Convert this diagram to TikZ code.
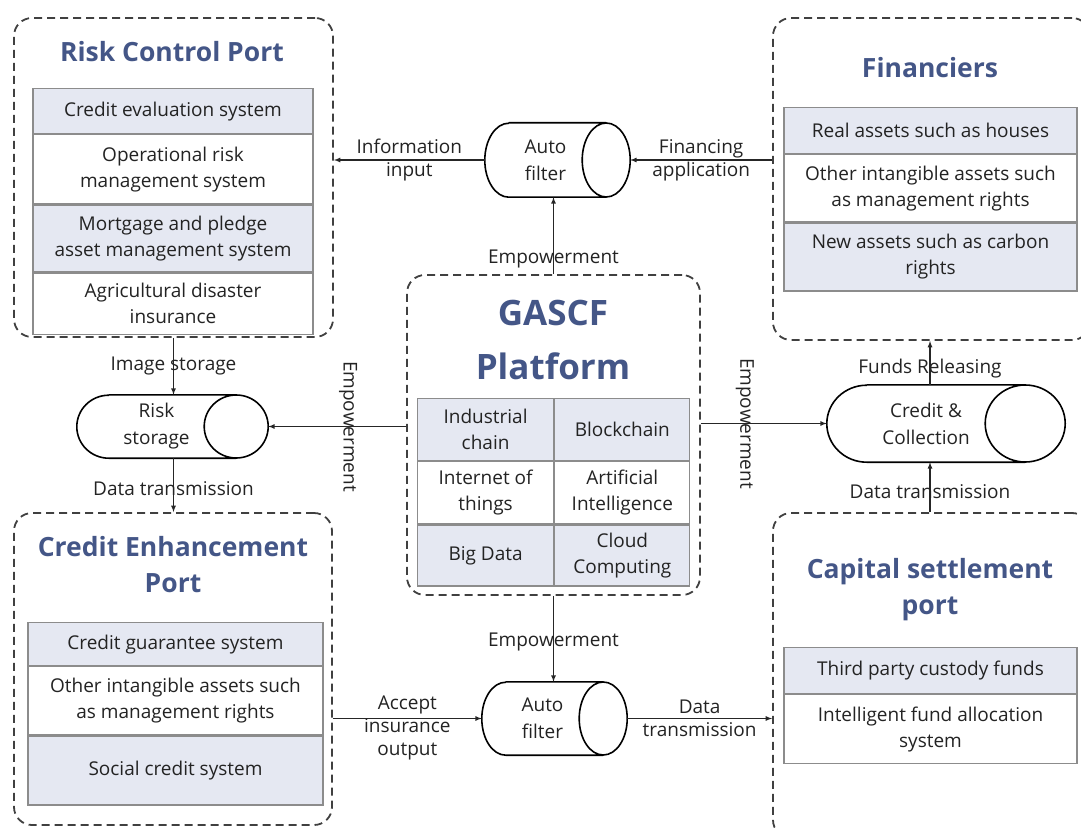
\documentclass[tikz,border=0pt]{standalone}
\usepackage{fontspec}
\setmainfont{Open Sans}
\usetikzlibrary{shapes.geometric,positioning}

\definecolor{titleblue}{RGB}{68,86,135}
\definecolor{rowgray}{RGB}{229,232,242}
\definecolor{inkgray}{RGB}{35,35,35}

\tikzset{
	portbox/.style={draw=black!75, line width=1.8pt, dash pattern=on 8pt off 5pt, rounded corners=18pt, inner sep=0pt},
	porttitle/.style={text=titleblue, font=\fontsize{26.5}{36}\selectfont\bfseries, align=center},
	tabcell/.style={draw=black!45, line width=1.2pt, align=center, inner sep=0pt, text=inkgray, font=\fontsize{19}{26}\selectfont},
	greyrow/.style={tabcell, fill=rowgray},
	whiterow/.style={tabcell, fill=white},
	drum/.style={align=center, inner sep=0pt, text=inkgray, font=\fontsize{19}{27}\selectfont},
	drumline/.style={draw=black, line width=1.6pt},
	flow/.style={-latex, line width=1.2pt, draw=black!85},
	flowtext/.style={align=center, text=inkgray, font=\fontsize{19}{23}\selectfont}
}

% outline of a lying drum: node name, x radius, y radius
\newcommand{\drumoutline}[3]{%
	\draw[drumline] ([xshift=#2]#1.north west) -- (#1.north east)
		(#1.east) ellipse [x radius=#2, y radius=#3]
		(#1.south east) -- ([xshift=#2]#1.south west)
		arc [start angle=270, end angle=90, x radius=#2, y radius=#3];
}

\begin{document}
\begin{tikzpicture}[x=1pt,y=-1pt]
	\useasboundingbox (0,0) rectangle (1081,829);

	% the five ports
	\node[portbox, minimum width=319pt, minimum height=319pt] (rcp) at (173.5,177.5) {};
	\node[portbox, minimum width=317pt, minimum height=322pt] (fin) at (931.5,179) {};
	\node[portbox, minimum width=293pt, minimum height=320pt] (gascf) at (553.5,435) {};
	\node[portbox, minimum width=318pt, minimum height=312pt] (cep) at (173,669) {};
	\node[portbox, minimum width=317pt, minimum height=325pt] (csp) at (931.5,675.5) {};

	\node[porttitle] (rcpT) at (172,52) {Risk Control Port};
	\node[porttitle] (finT) at (930,68) {Financiers};
	\node[porttitle, font=\fontsize{35}{54}\selectfont\bfseries] (gascfT) at (553,340) {GASCF\\Platform};
	\node[porttitle] (cepT) at (173,565) {Credit Enhancement\\Port};
	\node[porttitle] (cspT) at (930,590) {Capital settlement\\port};

	\node[greyrow, minimum width=280pt, minimum height=45pt, anchor=north] (rcpA) at (173,88) {Credit evaluation system};
	\node[whiterow, minimum width=280pt, minimum height=69pt, below=0pt of rcpA] (rcpB) {Operational risk\\management system};
	\node[greyrow, minimum width=280pt, minimum height=67pt, below=0pt of rcpB] (rcpC) {Mortgage and pledge\\asset management system};
	\node[whiterow, minimum width=280pt, minimum height=61pt, below=0pt of rcpC] (rcpD) {Agricultural disaster\\insurance};

	\node[greyrow, minimum width=293pt, minimum height=46pt, anchor=north] (finA) at (930.5,107) {Real assets such as houses};
	\node[whiterow, minimum width=293pt, minimum height=67pt, below=0pt of finA] (finB) {Other intangible assets such\\as management rights};
	\node[greyrow, minimum width=293pt, minimum height=68pt, below=0pt of finB] (finC) {New assets such as carbon\\rights};

	\node[greyrow, minimum width=136pt, minimum height=62pt, anchor=north west] (gsA) at (417,398) {Industrial\\chain};
	\node[greyrow, minimum width=135pt, minimum height=62pt, right=0pt of gsA] (gsB) {Blockchain};
	\node[whiterow, minimum width=136pt, minimum height=62pt, below=0pt of gsA] (gsC) {Internet of\\things};
	\node[whiterow, minimum width=135pt, minimum height=62pt, right=0pt of gsC] (gsD) {Artificial\\Intelligence};
	\node[greyrow, minimum width=136pt, minimum height=61pt, below=0pt of gsC] (gsE) {Big Data};
	\node[greyrow, minimum width=135pt, minimum height=61pt, right=0pt of gsE] (gsF) {Cloud\\Computing};

	\node[greyrow, minimum width=295pt, minimum height=43pt, anchor=north] (cepA) at (175.5,622) {Credit guarantee system};
	\node[whiterow, minimum width=295pt, minimum height=68pt, below=0pt of cepA] (cepB) {Other intangible assets such\\as management rights};
	\node[greyrow, minimum width=295pt, minimum height=69pt, below=0pt of cepB] (cepC) {Social credit system};

	\node[greyrow, minimum width=293pt, minimum height=46pt, anchor=north] (cspA) at (930.5,647) {Third party custody funds};
	\node[whiterow, minimum width=293pt, minimum height=69pt, below=0pt of cspA] (cspB) {Intelligent fund allocation\\system};

	% storage drums
	\node[drum, minimum width=121pt, minimum height=74pt] (filtA) at (545.5,160) {Auto\\filter};
	\node[drum, minimum width=159pt, minimum height=63pt] (store) at (156.5,426.5) {Risk\\storage};
	\node[drum, minimum width=121pt, minimum height=73pt] (filtB) at (542.5,718.5) {Auto\\filter};
	\node[drum, minimum width=198pt, minimum height=77pt] (coll) at (926,423.5) {Credit \&\\Collection};
	\drumoutline{filtA}{24pt}{37pt}
	\drumoutline{store}{32pt}{31.5pt}
	\drumoutline{filtB}{24pt}{36.5pt}
	\drumoutline{coll}{40pt}{38.5pt}

	% flows
	\draw[flow] (filtA.west) -- node[flowtext] {Information\\input} (rcp.east |- filtA.west);
	\draw[flow] (fin.west |- filtA.east) -- node[flowtext] {Financing\\application} ([xshift=24pt]filtA.east);
	\draw[flow] (gascf.north) -- node[flowtext, pos=0.2] {Empowerment} (filtA.south -| gascf.north);
	\draw[flow] (rcp.south) -- node[flowtext] {Image storage} (store.north -| rcp.south);
	\draw[flow] (store.south -| rcp.south) -- node[flowtext, pos=0.56] {Data transmission} (cep.north -| rcp.south);
	\draw[flow] (gascf.west |- store.east) -- node[flowtext, pos=0.42, rotate=-90] {Empowerment} ([xshift=32pt]store.east);
	\draw[flow] (gascf.east |- coll.west) -- node[flowtext, pos=0.35, rotate=-90] {Empowerment} (coll.west);
	\draw[flow] (coll.north -| finT) -- node[flowtext, pos=0.38] {Funds Releasing} (fin.south -| finT);
	\draw[flow] (csp.north -| finT) -- node[flowtext, pos=0.41] {Data transmission} (coll.south -| finT);
	\draw[flow] (gascf.south) -- node[flowtext, pos=0.54] {Empowerment} (filtB.north -| gascf.south);
	\draw[flow] (cep.east |- filtB.west) -- node[flowtext, yshift=-9pt] {Accept\\insurance\\output} (filtB.west);
	\draw[flow] ([xshift=24pt]filtB.east) -- node[flowtext] {Data\\transmission} (csp.west |- filtB.east);
\end{tikzpicture}
\end{document}
